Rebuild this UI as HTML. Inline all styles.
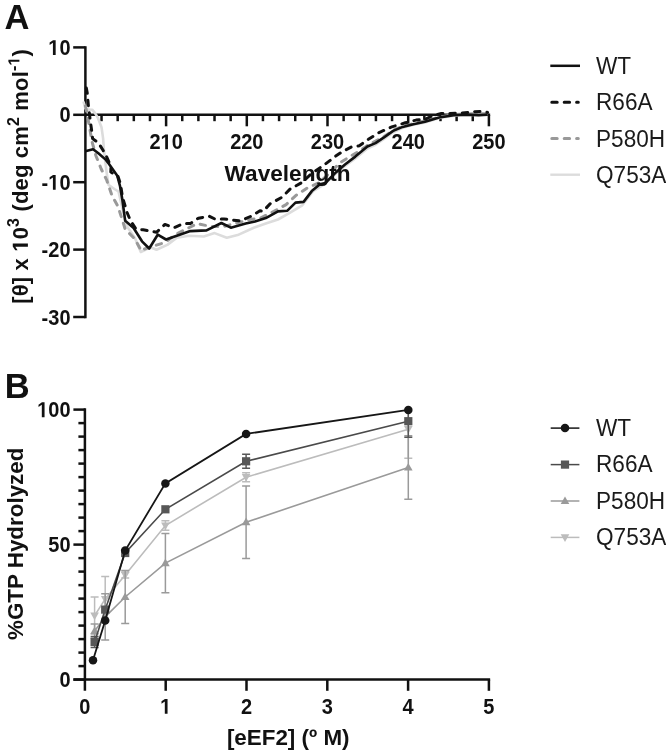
<!DOCTYPE html>
<html><head><meta charset="utf-8"><style>
html,body{margin:0;padding:0;background:#fff;width:666px;height:754px;overflow:hidden}
svg{display:block;font-family:"Liberation Sans", sans-serif;will-change:transform}
</style></head><body>
<svg width="666" height="754" viewBox="0 0 666 754">
<text transform="translate(4.60,28.60) scale(1.0,1.0)" font-size="34.5" font-weight="bold" fill="#111">A</text>
<text transform="translate(4.80,397.90) scale(1.0,1.0)" font-size="34.5" font-weight="bold" fill="#111">B</text>
<g stroke="#111" stroke-width="2.5" fill="none">
<path d="M85.4,46.15 V318.25"/>
<path d="M73.2,47.40 H85.4"/>
<path d="M73.2,114.80 H85.4"/>
<path d="M73.2,182.20 H85.4"/>
<path d="M73.2,249.60 H85.4"/>
<path d="M73.2,317.00 H85.4"/>
<path d="M85.4,114.8 H490.15"/>
<path d="M101.54,114.8 v6.4"/>
<path d="M117.68,114.8 v6.4"/>
<path d="M133.82,114.8 v6.4"/>
<path d="M149.96,114.8 v6.4"/>
<path d="M166.10,114.8 v11.5"/>
<path d="M182.24,114.8 v6.4"/>
<path d="M198.38,114.8 v6.4"/>
<path d="M214.52,114.8 v6.4"/>
<path d="M230.66,114.8 v6.4"/>
<path d="M246.80,114.8 v11.5"/>
<path d="M262.94,114.8 v6.4"/>
<path d="M279.08,114.8 v6.4"/>
<path d="M295.22,114.8 v6.4"/>
<path d="M311.36,114.8 v6.4"/>
<path d="M327.50,114.8 v11.5"/>
<path d="M343.64,114.8 v6.4"/>
<path d="M359.78,114.8 v6.4"/>
<path d="M375.92,114.8 v6.4"/>
<path d="M392.06,114.8 v6.4"/>
<path d="M408.20,114.8 v11.5"/>
<path d="M424.34,114.8 v6.4"/>
<path d="M440.48,114.8 v6.4"/>
<path d="M456.62,114.8 v6.4"/>
<path d="M472.76,114.8 v6.4"/>
<path d="M488.90,114.8 v11.5"/>
</g>
<g transform="translate(70.50,55.00) scale(1.0,1.08)"><text font-size="20" font-weight="bold" text-anchor="end" style="font-kerning:none" fill="#111"><tspan fill="transparent">1</tspan>0</text><path transform="translate(-22.249,0.000) scale(0.009766,-0.009766)" d="M478 0V1170L140 959V1180L493 1409H759V0Z" fill="#111"/></g>
<text transform="translate(70.50,122.40) scale(1.0,1.08)" font-size="20" font-weight="bold" text-anchor="end" fill="#111">0</text>
<g transform="translate(70.50,189.80) scale(1.0,1.08)"><text font-size="20" font-weight="bold" text-anchor="end" style="font-kerning:none" fill="#111">-<tspan fill="transparent">1</tspan>0</text><path transform="translate(-22.249,0.000) scale(0.009766,-0.009766)" d="M478 0V1170L140 959V1180L493 1409H759V0Z" fill="#111"/></g>
<text transform="translate(70.50,257.20) scale(1.0,1.08)" font-size="20" font-weight="bold" text-anchor="end" fill="#111">-20</text>
<text transform="translate(70.50,324.60) scale(1.0,1.08)" font-size="20" font-weight="bold" text-anchor="end" fill="#111">-30</text>
<g transform="translate(166.10,149.30) scale(1.0,1.08)"><text font-size="20" font-weight="bold" text-anchor="middle" style="font-kerning:none" fill="#111">2<tspan fill="transparent">1</tspan>0</text><path transform="translate(-5.562,0.000) scale(0.009766,-0.009766)" d="M478 0V1170L140 959V1180L493 1409H759V0Z" fill="#111"/></g>
<text transform="translate(246.80,149.30) scale(1.0,1.08)" font-size="20" font-weight="bold" text-anchor="middle" fill="#111">220</text>
<text transform="translate(327.50,149.30) scale(1.0,1.08)" font-size="20" font-weight="bold" text-anchor="middle" fill="#111">230</text>
<text transform="translate(408.20,149.30) scale(1.0,1.08)" font-size="20" font-weight="bold" text-anchor="middle" fill="#111">240</text>
<text transform="translate(488.90,149.30) scale(1.0,1.08)" font-size="20" font-weight="bold" text-anchor="middle" fill="#111">250</text>
<g transform="translate(27.9,176.4) rotate(-90)"><text font-size="22" font-weight="bold" letter-spacing="0.17" text-anchor="middle" fill="#111">[θ] x <tspan fill="transparent">1</tspan>0<tspan font-size="16" dy="-8.5">3</tspan><tspan dy="8.5"> (deg cm</tspan><tspan font-size="16" dy="-8.5">2</tspan><tspan dy="8.5"> mol</tspan><tspan font-size="16" dy="-8.5">-<tspan fill="transparent">1</tspan></tspan><tspan dy="8.5">)</tspan></text><path transform="translate(-75.375,0.000) scale(0.010742,-0.010742)" d="M478 0V1170L140 959V1180L493 1409H759V0Z" fill="#111"/><path transform="translate(110.828,-8.500) scale(0.007812,-0.007812)" d="M478 0V1170L140 959V1180L493 1409H759V0Z" fill="#111"/></g>
<g fill="none" stroke-linejoin="round">
<path d="M83.5,101.5 L85.3,108.3 L88.0,109.6 L92.2,109.7 L94.9,112.9 L98.0,118.2 L101.5,127.3 L103.1,138.4 L103.9,149.5 L106.5,171.6 L108.5,184.9 L114.4,189.0 L118.5,191.5 L126.4,225.6 L134.8,237.7 L140.8,252.0 L150.5,247.3 L156.5,249.7 L167.3,244.9 L176.9,237.7 L188.9,235.8 L203.8,236.5 L214.6,233.1 L226.8,237.8 L237.6,235.1 L253.8,227.7 L265.8,223.5 L278.0,219.5 L288.8,213.4 L302.3,205.3 L313.1,191.1 L325.3,183.6 L338.8,170.8 L343.0,167.5 L355.3,158.5 L367.4,148.5 L375.5,144.8 L383.6,139.2 L393.1,132.2 L402.6,127.8 L413.4,124.8 L425.0,122.5 L439.1,118.0 L453.8,115.6 L467.3,114.8 L478.6,115.2 L487.6,114.2" stroke="#dcdcdc" stroke-width="2.6"/>
<path d="M85.4,106.0 L87.6,116.0 L92.0,141.6 L95.9,155.7 L101.2,169.0 L106.5,179.6 L112.0,195.6 L118.0,206.4 L122.2,219.6 L125.2,229.2 L134.8,238.9 L141.4,250.9 L144.4,249.0 L155.3,245.5 L164.9,242.5 L176.0,234.3 L197.0,223.6 L210.5,226.4 L224.0,226.4 L249.7,219.6 L260.4,218.1 L273.9,211.4 L286.1,204.6 L295.5,195.8 L307.7,187.7 L318.5,183.0 L329.3,173.5 L340.1,162.7 L349.9,156.6 L359.3,151.2 L368.8,144.4 L375.5,141.1 L383.6,136.8 L393.1,130.3 L402.6,126.2 L413.4,123.6 L429.0,120.0 L439.1,117.0 L453.8,114.6 L467.3,113.9 L487.6,113.6" stroke="#999" stroke-width="3" stroke-linecap="round" stroke-dasharray="5.4 7"/>
<path d="M85.8,85.3 L87.2,92.7 L88.4,105.8 L90.3,120.9 L92.0,133.0 L92.6,138.6 L98.5,143.0 L103.2,150.5 L107.0,157.5 L111.0,166.5 L110.8,172.0 L117.8,175.8 L120.5,184.0 L122.4,196.8 L127.0,212.4 L130.6,220.8 L136.0,229.2 L143.2,229.8 L156.5,232.3 L164.9,224.4 L174.0,227.7 L183.5,223.6 L190.3,223.6 L198.4,218.2 L209.2,216.2 L214.6,218.9 L224.0,218.9 L240.3,221.0 L251.1,216.2 L260.0,210.8 L263.1,211.4 L269.9,203.9 L282.0,197.2 L290.1,189.1 L301.0,183.0 L311.8,173.5 L325.3,164.1 L335.0,156.6 L343.1,151.2 L351.2,147.1 L359.3,145.8 L368.8,139.0 L379.6,132.3 L391.8,126.9 L405.3,122.8 L416.1,120.1 L425.0,119.4 L431.3,116.3 L441.4,113.5 L457.2,113.3 L468.4,112.4 L473.0,111.8 L483.0,111.3 L487.6,112.4" stroke="#111" stroke-width="3" stroke-linecap="round" stroke-dasharray="5.4 7" stroke-dashoffset="-2.8"/>
<path d="M85.2,151.3 L93.1,149.2 L98.7,153.5 L105.9,159.9 L109.0,163.9 L117.3,175.8 L120.0,186.0 L122.4,200.0 L125.2,220.8 L133.6,228.0 L142.0,241.3 L149.2,248.5 L157.7,234.7 L166.0,239.5 L180.4,234.6 L190.3,231.1 L206.5,230.4 L221.4,223.0 L230.8,227.7 L245.7,223.6 L255.0,221.5 L265.8,218.1 L278.0,211.4 L287.4,210.7 L295.5,202.6 L303.6,201.9 L311.8,191.1 L319.9,184.3 L325.3,183.0 L336.1,172.2 L345.0,164.5 L355.3,156.6 L367.4,146.5 L375.5,143.1 L383.6,137.7 L393.1,130.9 L402.6,126.9 L413.4,124.2 L425.0,121.8 L439.1,117.5 L453.8,115.2 L467.3,114.6 L478.6,115.2 L487.6,114.6" stroke="#111" stroke-width="2.6"/>
</g>
<text transform="translate(287.60,180.60) scale(1.0,1.0)" font-size="22.6" font-weight="bold" text-anchor="middle" fill="#111">Wavelength</text>
<g fill="none">
<path d="M550.3,65.8 H580" stroke="#111" stroke-width="2.5"/>
<path d="M551.8,102.2 H578.3" stroke="#111" stroke-width="3" stroke-linecap="round" stroke-dasharray="5.4 7"/>
<path d="M551.8,138.6 H578.3" stroke="#999" stroke-width="3" stroke-linecap="round" stroke-dasharray="5.4 7"/>
<path d="M550.3,174.7 H580" stroke="#dcdcdc" stroke-width="2.4"/>
</g>
<text transform="translate(596.00,74.10) scale(1.0,1.032)" font-size="22.6" fill="#1a1a1a">WT</text>
<text transform="translate(596.00,110.40) scale(1.0,1.032)" font-size="22.6" fill="#1a1a1a">R66A</text>
<text transform="translate(596.00,146.70) scale(1.0,1.032)" font-size="22.6" fill="#1a1a1a">P580H</text>
<text transform="translate(596.00,183.00) scale(1.0,1.032)" font-size="22.6" fill="#1a1a1a">Q753A</text>
<g stroke="#111" stroke-width="2.5" fill="none">
<path d="M84.9,408.35 V690.80"/>
<path d="M73.4,679.60 H84.9"/>
<path d="M78.4,666.10 H84.9"/>
<path d="M78.4,652.60 H84.9"/>
<path d="M78.4,639.10 H84.9"/>
<path d="M78.4,625.60 H84.9"/>
<path d="M78.4,612.10 H84.9"/>
<path d="M78.4,598.60 H84.9"/>
<path d="M78.4,585.10 H84.9"/>
<path d="M78.4,571.60 H84.9"/>
<path d="M78.4,558.10 H84.9"/>
<path d="M73.4,544.60 H84.9"/>
<path d="M78.4,531.10 H84.9"/>
<path d="M78.4,517.60 H84.9"/>
<path d="M78.4,504.10 H84.9"/>
<path d="M78.4,490.60 H84.9"/>
<path d="M78.4,477.10 H84.9"/>
<path d="M78.4,463.60 H84.9"/>
<path d="M78.4,450.10 H84.9"/>
<path d="M78.4,436.60 H84.9"/>
<path d="M78.4,423.10 H84.9"/>
<path d="M73.4,409.60 H84.9"/>
<path d="M73.4,679.6 H490.15"/>
<path d="M165.70,679.6 v11.2"/>
<path d="M246.50,679.6 v11.2"/>
<path d="M327.30,679.6 v11.2"/>
<path d="M408.10,679.6 v11.2"/>
<path d="M488.90,679.6 v11.2"/>
</g>
<text transform="translate(70.50,687.20) scale(1.0,1.08)" font-size="20" font-weight="bold" text-anchor="end" fill="#111">0</text>
<text transform="translate(70.50,552.20) scale(1.0,1.08)" font-size="20" font-weight="bold" text-anchor="end" fill="#111">50</text>
<g transform="translate(70.50,417.20) scale(1.0,1.08)"><text font-size="20" font-weight="bold" text-anchor="end" style="font-kerning:none" fill="#111"><tspan fill="transparent">1</tspan>00</text><path transform="translate(-33.359,0.000) scale(0.009766,-0.009766)" d="M478 0V1170L140 959V1180L493 1409H759V0Z" fill="#111"/></g>
<text transform="translate(84.90,713.80) scale(1.0,1.08)" font-size="20" font-weight="bold" text-anchor="middle" fill="#111">0</text>
<g transform="translate(165.70,713.80) scale(1.0,1.08)"><text font-size="20" font-weight="bold" text-anchor="middle" style="font-kerning:none" fill="#111"><tspan fill="transparent">1</tspan></text><path transform="translate(-5.562,0.000) scale(0.009766,-0.009766)" d="M478 0V1170L140 959V1180L493 1409H759V0Z" fill="#111"/></g>
<text transform="translate(246.50,713.80) scale(1.0,1.08)" font-size="20" font-weight="bold" text-anchor="middle" fill="#111">2</text>
<text transform="translate(327.30,713.80) scale(1.0,1.08)" font-size="20" font-weight="bold" text-anchor="middle" fill="#111">3</text>
<text transform="translate(408.10,713.80) scale(1.0,1.08)" font-size="20" font-weight="bold" text-anchor="middle" fill="#111">4</text>
<text transform="translate(488.90,713.80) scale(1.0,1.08)" font-size="20" font-weight="bold" text-anchor="middle" fill="#111">5</text>
<text transform="translate(23.2,543.8) rotate(-90)" font-size="22.4" font-weight="bold" text-anchor="middle" fill="#111">%GTP Hydrolyzed</text>
<text transform="translate(288.20,744.70) scale(1.0,1.0)" font-size="22.4" font-weight="bold" text-anchor="middle" fill="#111">[eEF2] (º M)</text>
<path d="M94.60,597.00 V634.20 M90.60,597.00 h8 M90.60,634.20 h8" stroke="#bcbcbc" stroke-width="1.5" fill="none"/>
<path d="M105.20,576.60 V621.40 M101.20,576.60 h8 M101.20,621.40 h8" stroke="#bcbcbc" stroke-width="1.5" fill="none"/>
<path d="M125.20,572.00 V578.00 M121.20,572.00 h8 M121.20,578.00 h8" stroke="#bcbcbc" stroke-width="1.5" fill="none"/>
<path d="M165.40,520.80 V530.20 M161.40,520.80 h8 M161.40,530.20 h8" stroke="#bcbcbc" stroke-width="1.5" fill="none"/>
<path d="M246.10,472.70 V481.70 M242.10,472.70 h8 M242.10,481.70 h8" stroke="#bcbcbc" stroke-width="1.5" fill="none"/>
<path d="M408.30,409.70 V458.20 M404.30,458.20 h8" stroke="#bcbcbc" stroke-width="1.5" fill="none"/>
<path d="M94.60,615.60 L105.20,599.00 L125.20,575.00 L165.40,525.50 L246.10,477.20 L408.30,429.20" stroke="#bcbcbc" stroke-width="1.6" fill="none"/>
<path d="M94.60,620.20 L98.90,612.50 L90.30,612.50Z" fill="#bcbcbc"/>
<path d="M105.20,603.60 L109.50,595.90 L100.90,595.90Z" fill="#bcbcbc"/>
<path d="M125.20,579.60 L129.50,571.90 L120.90,571.90Z" fill="#bcbcbc"/>
<path d="M165.40,530.10 L169.70,522.40 L161.10,522.40Z" fill="#bcbcbc"/>
<path d="M246.10,481.80 L250.40,474.10 L241.80,474.10Z" fill="#bcbcbc"/>
<path d="M408.30,433.80 L412.60,426.10 L404.00,426.10Z" fill="#bcbcbc"/>
<path d="M94.60,624.00 V638.00 M90.60,624.00 h8 M90.60,638.00 h8" stroke="#9a9a9a" stroke-width="1.5" fill="none"/>
<path d="M105.20,593.70 V640.10 M101.20,593.70 h8 M101.20,640.10 h8" stroke="#9a9a9a" stroke-width="1.5" fill="none"/>
<path d="M125.20,570.60 V623.40 M121.20,570.60 h8 M121.20,623.40 h8" stroke="#9a9a9a" stroke-width="1.5" fill="none"/>
<path d="M165.40,533.40 V592.80 M161.40,533.40 h8 M161.40,592.80 h8" stroke="#9a9a9a" stroke-width="1.5" fill="none"/>
<path d="M246.10,485.90 V558.50 M242.10,485.90 h8 M242.10,558.50 h8" stroke="#9a9a9a" stroke-width="1.5" fill="none"/>
<path d="M408.30,435.70 V499.30 M404.30,435.70 h8 M404.30,499.30 h8" stroke="#9a9a9a" stroke-width="1.5" fill="none"/>
<path d="M94.60,631.00 L105.20,616.90 L125.20,597.00 L165.40,563.10 L246.10,522.20 L408.30,467.50" stroke="#9a9a9a" stroke-width="1.6" fill="none"/>
<path d="M94.60,626.40 L98.90,634.10 L90.30,634.10Z" fill="#9a9a9a"/>
<path d="M105.20,612.30 L109.50,620.00 L100.90,620.00Z" fill="#9a9a9a"/>
<path d="M125.20,592.40 L129.50,600.10 L120.90,600.10Z" fill="#9a9a9a"/>
<path d="M165.40,558.50 L169.70,566.20 L161.10,566.20Z" fill="#9a9a9a"/>
<path d="M246.10,517.60 L250.40,525.30 L241.80,525.30Z" fill="#9a9a9a"/>
<path d="M408.30,462.90 L412.60,470.60 L404.00,470.60Z" fill="#9a9a9a"/>
<path d="M94.60,636.40 V647.60 M90.60,636.40 h8 M90.60,647.60 h8" stroke="#575757" stroke-width="1.5" fill="none"/>
<path d="M246.10,454.30 V468.30 M242.10,454.30 h8 M242.10,468.30 h8" stroke="#575757" stroke-width="1.5" fill="none"/>
<path d="M408.30,409.70 V437.20 M404.30,437.20 h8" stroke="#575757" stroke-width="1.5" fill="none"/>
<path d="M94.60,642.00 L105.20,609.60 L125.20,553.00 L165.40,509.30 L246.10,461.30 L408.30,421.20" stroke="#4a4a4a" stroke-width="1.6" fill="none"/>
<rect x="90.50" y="637.90" width="8.2" height="8.2" fill="#575757"/>
<rect x="101.10" y="605.50" width="8.2" height="8.2" fill="#575757"/>
<rect x="121.10" y="548.90" width="8.2" height="8.2" fill="#575757"/>
<rect x="161.30" y="505.20" width="8.2" height="8.2" fill="#575757"/>
<rect x="242.00" y="457.20" width="8.2" height="8.2" fill="#575757"/>
<rect x="404.20" y="417.10" width="8.2" height="8.2" fill="#575757"/>
<path d="M93.00,660.30 L105.20,620.50 L125.20,550.50 L165.40,483.40 L246.10,433.90 L408.30,409.90" stroke="#161616" stroke-width="1.8" fill="none"/>
<circle cx="93.00" cy="660.30" r="4.25" fill="#161616"/>
<circle cx="105.20" cy="620.50" r="4.25" fill="#161616"/>
<circle cx="125.20" cy="550.50" r="4.25" fill="#161616"/>
<circle cx="165.40" cy="483.40" r="4.25" fill="#161616"/>
<circle cx="246.10" cy="433.90" r="4.25" fill="#161616"/>
<circle cx="408.30" cy="409.90" r="4.25" fill="#161616"/>
<path d="M550.7,428.10 H579.4" stroke="#161616" stroke-width="1.5" fill="none"/>
<circle cx="565.00" cy="428.10" r="4.25" fill="#161616"/>
<path d="M550.7,464.60 H579.4" stroke="#4a4a4a" stroke-width="1.5" fill="none"/>
<rect x="560.90" y="460.50" width="8.2" height="8.2" fill="#575757"/>
<path d="M550.7,501.00 H579.4" stroke="#9a9a9a" stroke-width="1.5" fill="none"/>
<path d="M565.00,496.40 L569.30,504.10 L560.70,504.10Z" fill="#9a9a9a"/>
<path d="M550.7,537.40 H579.4" stroke="#bcbcbc" stroke-width="1.5" fill="none"/>
<path d="M565.00,542.00 L569.30,534.30 L560.70,534.30Z" fill="#bcbcbc"/>
<text transform="translate(596.00,435.90) scale(1.0,1.032)" font-size="22.6" fill="#1a1a1a">WT</text>
<text transform="translate(596.00,472.30) scale(1.0,1.032)" font-size="22.6" fill="#1a1a1a">R66A</text>
<text transform="translate(596.00,508.70) scale(1.0,1.032)" font-size="22.6" fill="#1a1a1a">P580H</text>
<text transform="translate(596.00,545.10) scale(1.0,1.032)" font-size="22.6" fill="#1a1a1a">Q753A</text>
</svg>
</body></html>
